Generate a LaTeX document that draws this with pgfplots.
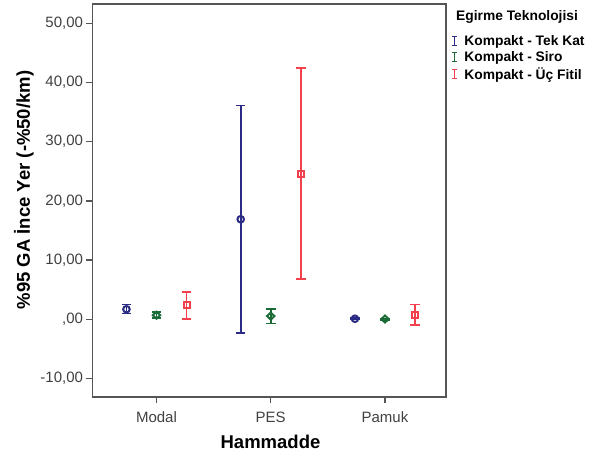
\documentclass[border=0pt]{standalone}
\usepackage{pgfplots}
\pgfplotsset{compat=1.18}
\usepackage{fontspec}
\setmainfont{Liberation Sans}
\definecolor{cblue}{HTML}{2B2B85}
\definecolor{cgreen}{HTML}{1B6B37}
\definecolor{cred}{HTML}{F2404C}
\definecolor{axgray}{HTML}{555555}
\pgfplotsset{Ileg/.style={legend image code/.code={
  \path[draw=none] (0pt,0pt)--(11pt,0pt);
  \draw[##1, line width=1.4pt] (2.5pt,-4.5pt)--(2.5pt,4.5pt);
  \draw[##1, line width=1.4pt] (0pt,-4.5pt)--(5pt,-4.5pt);
  \draw[##1, line width=1.4pt] (0pt,4.5pt)--(5pt,4.5pt);}}}
\begin{document}
\begin{tikzpicture}
\useasboundingbox (-92.5pt,-64pt) rectangle (500.5pt,397pt);
\begin{axis}[
  scale only axis, width=353.5pt, height=393pt,
  xmin=-0.56, xmax=2.534, ymin=-13.12, ymax=53.26,
  xtick={0,1,2}, xticklabels={Modal,PES,Pamuk},
  ytick={-10,0,10,20,30,40,50},
  yticklabels={{-10,00},{,00},{10,00},{20,00},{30,00},{40,00},{50,00}},
  tick align=outside, tick pos=left, major tick length=6pt,
  axis line style={axgray, line width=1.8pt},
  tick style={axgray, line width=1.3pt},
  ticklabel style={font=\fontsize{15}{17}\selectfont, text=black!75},
  xticklabel style={yshift=-5pt},
  xlabel={Hammadde}, ylabel={\%95 GA İnce Yer (-\%50/km)},
  label style={font=\bfseries\fontsize{18.5}{20}\selectfont},
  xlabel style={at={(axis description cs:0.5035,-0.1145)}, anchor=center},
  ylabel style={at={(axis description cs:-0.1938,0.5267)}, anchor=center},
  legend style={at={(1,1)}, anchor=north west, xshift=5pt, yshift=-29.5pt,
    draw=none, fill=none, font=\bfseries\fontsize{13.8}{15}\selectfont,
    row sep=1.6pt, inner sep=0pt, nodes={inner sep=1.5pt}},
  legend cell align=left,
  clip=false,
]
\addlegendimage{Ileg, cblue}
\addlegendentry{Kompakt - Tek Kat}
\addlegendimage{Ileg, cgreen}
\addlegendentry{Kompakt - Siro}
\addlegendimage{Ileg, cred}
\addlegendentry{Kompakt - Üç Fitil}

\addplot[forget plot, cblue, only marks, mark=o, mark size=3.3pt, mark options={line width=2pt, fill=white},
  error bars/.cd, y dir=both, y explicit, error bar style={line width=1.8pt},
  error mark options={cblue, rotate=90, line width=1.8pt, mark size=4.8pt}]
  coordinates {
  (-0.263,1.7) += (0,0.8) -= (0,0.7)
  (0.737,16.9) += (0,19.2) -= (0,19.2)
  (1.737,0.1) += (0,0.1) -= (0,0.1)
  };
\addplot[forget plot, cgreen, only marks, mark=diamond, mark size=3.5pt, mark options={line width=2pt, fill=white, xscale=1.4},
  error bars/.cd, y dir=both, y explicit, error bar style={line width=1.8pt},
  error mark options={cgreen, rotate=90, line width=1.8pt, mark size=4.8pt}]
  coordinates {
  (0,0.7) += (0,0.55) -= (0,0.5)
  (1,0.55) += (0,1.25) -= (0,1.25)
  (2,0.05) += (0,0.1) -= (0,0.1)
  };
\addplot[forget plot, cred, only marks, mark=square, mark size=3pt, mark options={line width=2pt, fill=white},
  error bars/.cd, y dir=both, y explicit, error bar style={line width=1.8pt},
  error mark options={cred, rotate=90, line width=1.8pt, mark size=4.8pt}]
  coordinates {
  (0.263,2.35) += (0,2.2) -= (0,2.3)
  (1.263,24.5) += (0,17.9) -= (0,17.7)
  (2.263,0.75) += (0,1.75) -= (0,1.75)
  };
\node[anchor=west, inner sep=0pt, font=\bfseries\fontsize{13.8}{15}\selectfont]
  at (rel axis cs:1,1) [xshift=10pt, yshift=-13pt] {Egirme Teknolojisi};
\end{axis}
\end{tikzpicture}
\end{document}
